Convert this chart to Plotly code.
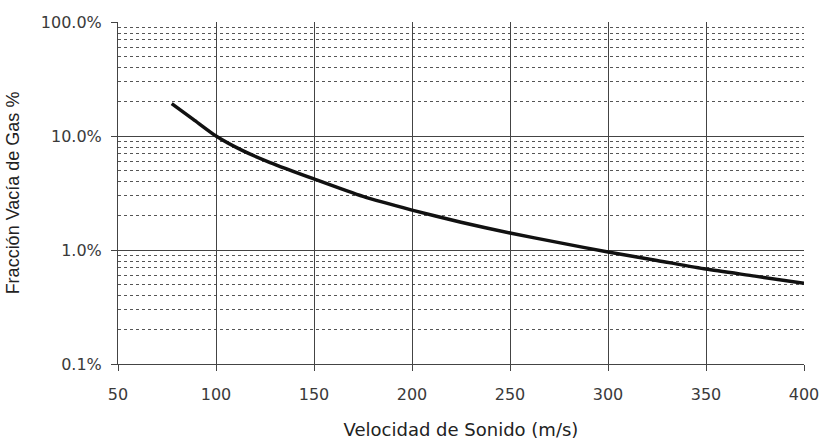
import plotly.graph_objects as go

velocidad = [77.4, 88.4, 100, 113.9, 127.6, 150, 175, 200, 225, 250, 275, 300, 325, 350, 375, 400]
fraccion = [19.2, 14.0, 10.0, 7.4, 5.85, 4.2, 2.95, 2.24, 1.75, 1.41, 1.16, 0.96, 0.81, 0.68, 0.59, 0.51]

y_ticks = [0.1, 1, 10, 100]
y_ticktext = ["0.1%", "1.0%", "10.0%", "100.0%"]
x_ticks = [50, 100, 150, 200, 250, 300, 350, 400]
minor_y = [m * d for d in (0.1, 1, 10) for m in range(2, 10)]

fig = go.Figure()
fig.add_trace(go.Scatter(x=velocidad, y=fraccion, mode="lines",
                         line=dict(color="#111111", width=3.5, shape="spline", smoothing=0.6),
                         showlegend=False, hoverinfo="skip"))

tickfont = dict(family="DejaVu Sans, Liberation Sans, sans-serif", size=16, color="#3a3a3a")
fig.update_layout(
    width=822, height=441,
    margin=dict(l=118, r=18, t=22, b=77),
    paper_bgcolor="white", plot_bgcolor="white",
    font=dict(family="Liberation Sans, Arial, sans-serif", size=16, color="#333333"),
    xaxis=dict(range=[50, 400], tickvals=x_ticks, showgrid=True, gridcolor="#444444",
               gridwidth=1, showline=True, linecolor="#444444", linewidth=1,
               ticks="outside", ticklen=6, tickcolor="#444444", zeroline=False,
               tickfont=tickfont, ticklabelstandoff=10, automargin=False,
               title=dict(text="Velocidad de Sonido (m/s)",
                          font=dict(family="DejaVu Sans, sans-serif", size=18, color="#222222"),
                          standoff=20)),
    yaxis=dict(type="log", range=[-1, 2], tickvals=y_ticks, ticktext=y_ticktext,
               showgrid=True, gridcolor="#444444", gridwidth=1,
               showline=True, linecolor="#444444", linewidth=1,
               ticks="outside", ticklen=6, tickcolor="#444444", zeroline=False,
               tickfont=tickfont, ticklabelstandoff=6, automargin=False,
               minor=dict(tickvals=minor_y, showgrid=True, gridcolor="#555555",
                          griddash="3px,3px", gridwidth=1, ticks=""),
               title=dict(text="Fracción Vacía de Gas %",
                          font=dict(family="Liberation Sans, Arial, sans-serif", size=18, color="#222222"),
                          standoff=16)),
)
fig.write_html("out.html", config={"displayModeBar": False, "staticPlot": True},
               post_script="document.body.style.margin='0';document.body.style.overflow='hidden';")
